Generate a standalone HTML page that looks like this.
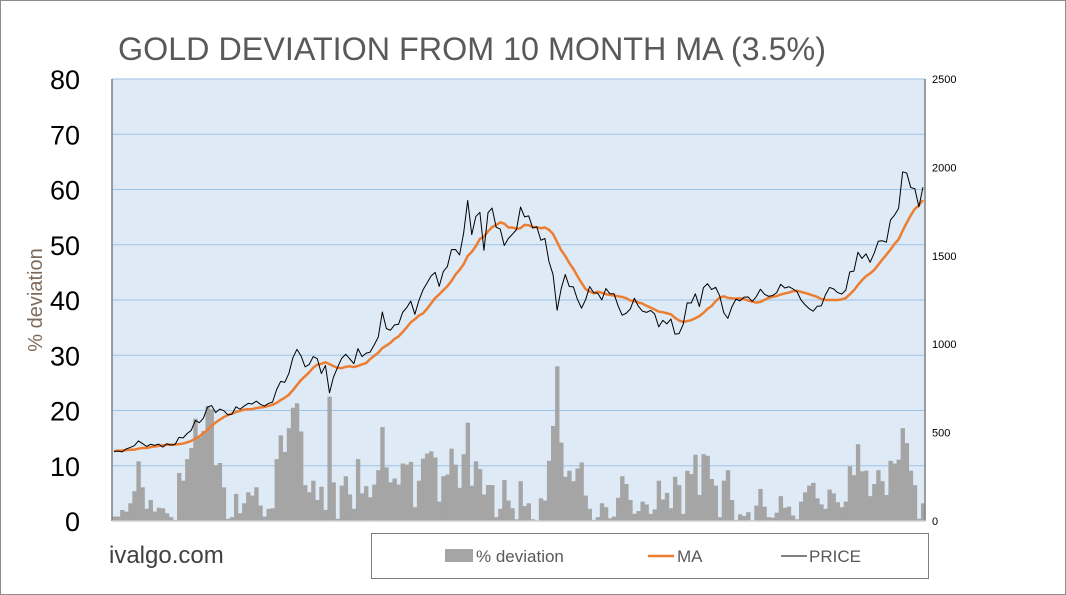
<!DOCTYPE html>
<html><head><meta charset="utf-8"><style>
body{margin:0;background:#fff;}
#c{position:relative;width:1066px;height:595px;overflow:hidden;font-family:"Liberation Sans",sans-serif;}
</style></head><body>
<div id="c">
<svg id="svg" width="1066" height="595" xmlns="http://www.w3.org/2000/svg">
<rect x="0.5" y="0.5" width="1065" height="594" fill="#fff" stroke="#8c8c8c"/>
<text x="118" y="60" font-size="32" fill="#595959" textLength="708" lengthAdjust="spacingAndGlyphs">GOLD DEVIATION FROM 10 MONTH MA (3.5%)</text>
<rect x="112" y="79" width="813" height="442" fill="#deeaf6"/>
<g id="grid"></g>
<g id="bars"></g>
<g id="lines"></g>
<line x1="112" y1="79" x2="112" y2="521" stroke="#7f7f7f" stroke-width="1.5"/>
<line x1="925" y1="79" x2="925" y2="521" stroke="#7f7f7f" stroke-width="1.5"/>
<line x1="112" y1="521" x2="925" y2="521" stroke="#d0d0d0" stroke-width="1.5"/>
<g id="lt"></g>
<g id="rt"></g>
<text transform="translate(42,300) rotate(-90)" text-anchor="middle" font-size="20" fill="#7f6a5a">% deviation</text>
<text x="109" y="563" font-size="24" fill="#404040">ivalgo.com</text>
<g>
<rect x="371.5" y="533.5" width="557" height="45" fill="#fff" stroke="#7f7f7f"/>
<rect x="445" y="549" width="28" height="13" fill="#a5a5a5"/>
<text x="476" y="562" font-size="17" fill="#595959">% deviation</text>
<line x1="648" y1="556" x2="674" y2="556" stroke="#ed7d31" stroke-width="2.5"/>
<text x="677" y="562" font-size="17" fill="#595959">MA</text>
<line x1="781" y1="556" x2="807" y2="556" stroke="#000" stroke-width="1"/>
<text x="809" y="562" font-size="17" fill="#595959">PRICE</text>
</g>
</svg>
</div>
<script>
const leftTicks=[0,10,20,30,40,50,60,70,80];
const rightTicks=[0,500,1000,1500,2000,2500];
const price=[393,395,391,408,416,426,453,438,
422,434,428,435,418,437,429,433,473,470,495,513,
569,556,582,644,653,613,633,624,600,604,646,632,
650,665,662,678,660,650,665,673,743,790,784,834,
923,971,934,872,885,930,918,834,880,725,815,869,
920,943,917,890,975,930,949,955,996,1040,1182,1088,
1079,1109,1113,1180,1207,1244,1169,1247,1307,1346,1386,1406,
1327,1411,1439,1535,1536,1505,1628,1813,1620,1722,1746,1531,
1744,1770,1662,1651,1558,1598,1622,1648,1776,1720,1726,1657,
1664,1588,1598,1467,1394,1192,1314,1394,1326,1324,1253,1204,
1251,1326,1291,1288,1250,1315,1285,1285,1217,1164,1175,1199,
1260,1214,1187,1180,1191,1171,1098,1135,1115,1142,1057,1060,
1111,1234,1233,1285,1213,1320,1342,1309,1322,1273,1178,1146,
1212,1255,1245,1266,1267,1242,1269,1311,1283,1271,1275,1291,
1339,1318,1325,1313,1298,1250,1223,1201,1187,1215,1217,1279,
1321,1313,1292,1284,1305,1409,1413,1520,1485,1511,1463,1515,
1582,1585,1577,1702,1730,1768,1975,1968,1886,1879,1777,1888];
const ma=[396,398,399,401,403,404,409,413,
413,418,421,425,428,431,432,433,435,438,445,453,
467,479,496,516,539,557,573,588,599,608,616,623,
630,632,633,639,642,645,651,658,668,684,697,714,
740,769,797,819,841,867,884,889,898,887,876,866,
865,872,875,871,877,886,893,916,934,952,978,992,
1008,1030,1044,1069,1095,1124,1141,1162,1174,1200,1231,1261,
1282,1305,1328,1357,1394,1420,1452,1499,1522,1554,1596,1608,
1638,1662,1674,1689,1682,1660,1660,1653,1656,1675,1673,1662,
1662,1656,1660,1647,1624,1578,1532,1499,1459,1426,1385,1347,
1312,1298,1288,1297,1291,1283,1279,1275,1271,1267,1260,1247,
1244,1236,1230,1217,1207,1196,1184,1181,1175,1169,1149,1134,
1126,1131,1136,1147,1159,1177,1200,1216,1243,1264,1271,1262,
1260,1257,1260,1255,1247,1241,1235,1239,1250,1262,1268,1272,
1281,1287,1292,1300,1302,1296,1290,1283,1275,1267,1255,1251,
1250,1250,1250,1253,1261,1282,1305,1335,1362,1385,1400,1420,
1449,1479,1506,1535,1567,1592,1641,1687,1729,1765,1785,1815];
const deviation=[0.8,0.8,2.0,1.7,3.2,5.4,10.8,6.1,
2.2,3.8,1.7,2.4,2.3,1.4,0.7,0.2,8.7,7.3,11.2,13.2,
18.5,15.1,16.3,20.8,20.2,10.1,10.5,6.1,0.4,0.7,4.9,1.4,
3.2,5.2,4.6,6.1,2.8,0.8,2.2,2.3,11.2,15.5,12.5,16.8,
20.5,21.3,16.2,6.5,5.2,7.3,3.8,6.2,2.0,22.5,7.0,0.4,
6.4,8.1,4.8,2.2,11.2,5.0,6.3,4.3,6.6,9.2,17.0,9.7,
7.0,7.7,6.6,10.4,10.2,10.7,2.5,7.3,11.3,12.2,12.6,11.5,
3.5,8.1,8.4,13.1,10.2,6.0,12.1,17.8,6.4,10.8,9.4,4.8,
6.5,6.5,0.7,2.2,7.4,3.7,2.3,0.3,7.2,2.7,3.2,0.3,
0.1,4.1,3.7,10.9,17.2,28.0,14.2,8.0,9.1,7.2,9.5,10.6,
4.6,2.2,0.2,0.7,3.2,2.5,0.5,0.8,4.2,8.1,6.7,3.8,
1.3,1.8,3.5,3.0,1.3,2.1,7.3,3.9,5.1,2.3,8.0,6.5,
1.3,9.1,8.5,12.0,4.7,12.1,11.8,7.6,6.4,0.7,7.3,9.2,
3.8,0.2,1.2,0.9,1.6,0.1,2.8,5.8,2.6,0.7,0.6,1.5,
4.5,2.4,2.6,1.0,0.3,3.5,5.2,6.4,6.9,4.1,3.0,2.2,
5.7,5.0,3.4,2.5,3.5,9.9,8.3,13.9,9.0,9.1,4.5,6.7,
9.2,7.2,4.7,10.9,10.4,11.1,16.8,14.1,9.1,6.5,0.4,3.2];

const NS='http://www.w3.org/2000/svg';
const X0=112,X1=925,YT=79,YB=521;
const N=price.length, step=(X1-X0)/N;
function xCenter(i){return X0+step*(i+0.5);}
function xLeft(i){return X0+step*i;}
function yLeft(v){return YB-(v/80)*(YB-YT);}
function yRight(v){return YB-(v/2500)*(YB-YT);}
function mk(tag,attrs,parent){const e=document.createElementNS(NS,tag);for(const k in attrs)e.setAttribute(k,attrs[k]);document.getElementById(parent).appendChild(e);return e;}

leftTicks.forEach(t=>{
  if(t>0){
    const g=mk('line',{x1:X0,x2:X1,y1:yLeft(t),y2:yLeft(t),stroke:'#9dc3e6','stroke-width':1},'grid');
    
    
  }
  const tx=mk('text',{x:80,y:yLeft(t)+10,'text-anchor':'end','font-size':27,fill:'#000'},'lt');
  tx.textContent=t;
  
  
});
rightTicks.forEach(t=>{
  const tx=mk('text',{x:932,y:yRight(t)+4,'font-size':11,fill:'#000'},'rt');
  tx.textContent=t;
  
  
});
deviation.forEach((v,i)=>{
  const y=yLeft(v);
  const r=mk('rect',{x:xLeft(i),y:y,width:step+0.3,height:YB-y,fill:'#a5a5a5'},'bars');
  
  
});
function path(arr){return arr.map((v,i)=>(i?'L':'M')+xCenter(i).toFixed(2)+' '+yRight(v).toFixed(2)).join(' ');}
const m=mk('path',{d:path(ma),fill:'none',stroke:'#ed7d31','stroke-width':2.5,'stroke-linejoin':'round'},'lines');


const p=mk('path',{d:path(price),fill:'none',stroke:'#000','stroke-width':1,'stroke-linejoin':'round'},'lines');


</script>
</body></html>
